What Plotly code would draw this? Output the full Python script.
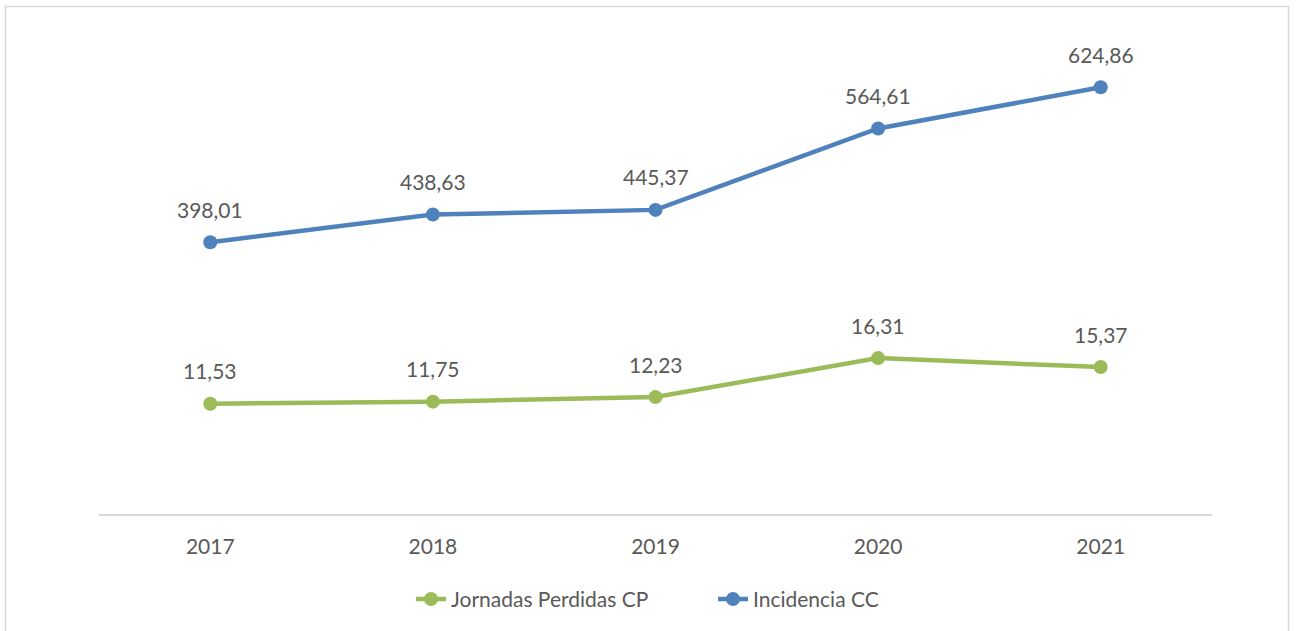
import plotly.graph_objects as go

years = ["2017", "2018", "2019", "2020", "2021"]
jornadas = [11.53, 11.75, 12.23, 16.31, 15.37]
incidencia = [398.01, 438.63, 445.37, 564.61, 624.86]

GREEN = "#9BBB59"
BLUE = "#4F81BD"
TXT = "#595959"
FONT = "Lato"
FS = 21

def fmt(v):
    return f"{v:.2f}".replace(".", ",")

fig = go.Figure()
fig.add_trace(go.Scatter(
    x=years, y=jornadas, name="Jornadas Perdidas CP", mode="lines+markers",
    line=dict(color=GREEN, width=4.5), marker=dict(size=14, color=GREEN),
    yaxis="y"))
fig.add_trace(go.Scatter(
    x=years, y=incidencia, name="Incidencia CC", mode="lines+markers",
    line=dict(color=BLUE, width=4.5), marker=dict(size=14, color=BLUE),
    yaxis="y2"))

ann = []
for i, v in enumerate(jornadas):
    ann.append(dict(x=i, y=v, xref="x", yref="y", text=fmt(v), showarrow=False,
                    yshift=33, font=dict(size=FS, color=TXT, family=FONT)))
for i, v in enumerate(incidencia):
    ann.append(dict(x=i, y=v, xref="x", yref="y2", text=fmt(v), showarrow=False,
                    yshift=33, font=dict(size=FS, color=TXT, family=FONT)))

W, H = 1296, 631
L, R, T, B = 99, 84, 36, 116
pw, ph = W - L - R, H - T - B

hidden = dict(showgrid=False, zeroline=False, showline=False, showticklabels=False, ticks="")

fig.update_layout(
    width=W, height=H,
    margin=dict(l=L, r=R, t=T, b=B),
    paper_bgcolor="white", plot_bgcolor="white",
    font=dict(family=FONT, color=TXT, size=FS),
    xaxis=dict(type="category", range=[-0.5, 4.5], showgrid=False, zeroline=False,
               showline=True, linecolor="#D9D9D9", linewidth=2,
               ticks="outside", ticklen=13, tickcolor="rgba(0,0,0,0)",
               tickfont=dict(size=FS, color=TXT, family=FONT)),
    yaxis=dict(range=[0, 50], **hidden),
    yaxis2=dict(range=[0, 700], overlaying="y", side="right", **hidden),
    showlegend=True,
    legend=dict(orientation="h", x=(411 - L) / pw, xanchor="left", y=-0.176, yanchor="middle",
                font=dict(size=FS, color=TXT, family=FONT), itemwidth=30,
                entrywidth=257, entrywidthmode="pixels",
                traceorder="normal"),
    annotations=ann,
    shapes=[dict(type="rect", xref="paper", yref="paper",
                 x0=(5.5 - L) / pw, x1=(1288.5 - L) / pw,
                 y0=-1.0, y1=(T + ph - 6.5) / ph,
                 line=dict(color="#D9D9D9", width=1.5), fillcolor="rgba(0,0,0,0)")],
)

fig.write_html("out.html", config={"displayModeBar": False},
               post_script="document.body.style.margin='0';document.body.style.overflow='hidden';")
